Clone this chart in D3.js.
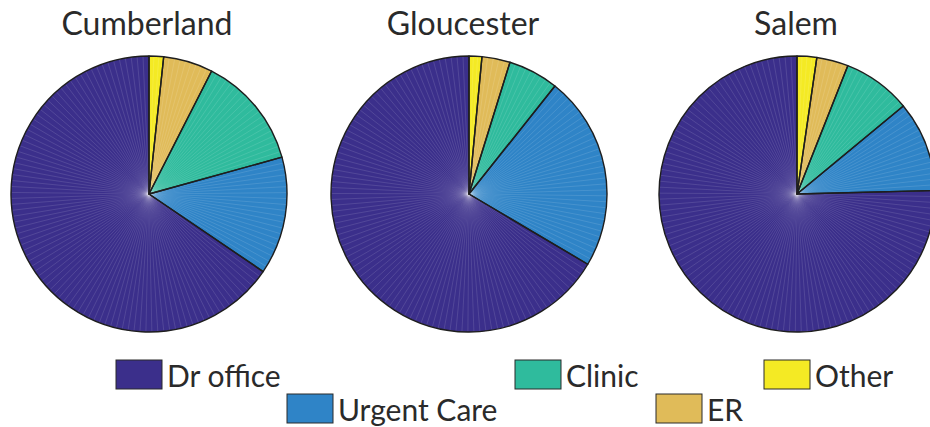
<!DOCTYPE html>
<html>
<head>
<meta charset="utf-8">
<script src="https://cdn.jsdelivr.net/npm/d3@7"></script>
<style>
  html, body { margin: 0; padding: 0; background: #fff; }
  svg { display: block; }
  text { font-family: Lato, "Open Sans", sans-serif; font-weight: 400; fill: #2a2a2a; }
</style>
</head>
<body>
<svg id="chart" width="930" height="427"></svg>
<script>
// ---- data (percent of visits) ----
const categories = ["Dr office", "Urgent Care", "Clinic", "ER", "Other"];
const regions = ["Cumberland", "Gloucester", "Salem"];
const cumberland = [65.5, 13.8, 13.2, 5.8, 1.7];
const gloucester = [66.5, 22.8, 5.9, 3.3, 1.5];
const salem = [75.4, 10.6, 8.0, 3.7, 2.3];
const seriesValues = [cumberland, gloucester, salem];
const colors = ["#3b2f8b", "#2f84c7", "#2fbb9d", "#e0bb59", "#f4ea24"];

// ---- layout ----
const W = 930, H = 427;
const radius = 138;
const centerY = 194;
const centersX = [149, 469, 797];

const svg = d3.select("#chart");
const color = d3.scaleOrdinal().domain(categories).range(colors);

const pie = d3.pie().sort(null).value(d => d.v)
  .startAngle(0).endAngle(-2 * Math.PI);
const arc = d3.arc().innerRadius(0).outerRadius(radius);

regions.forEach((name, i) => {
  const g = svg.append("g").attr("transform", `translate(${centersX[i]},${centerY})`);
  const data = categories.map((c, j) => ({ c, v: seriesValues[i][j] }));
  const arcs = pie(data);

  // slice fills
  g.selectAll("path.fill").data(arcs).join("path")
    .attr("class", "fill")
    .attr("d", arc)
    .attr("fill", d => color(d.data.c))
    .attr("stroke", "none");

  // faint radial seams (patch triangulation look)
  arcs.forEach(a => {
    const frac = Math.abs(a.endAngle - a.startAngle) / (2 * Math.PI);
    const n = Math.max(1, Math.ceil(144 * frac));
    const lines = d3.range(1, n).map(k => a.startAngle + (a.endAngle - a.startAngle) * k / n);
    g.append("g").selectAll("line").data(lines).join("line")
      .attr("x1", 0).attr("y1", 0)
      .attr("x2", t => (radius - 0.5) * Math.sin(t))
      .attr("y2", t => -(radius - 0.5) * Math.cos(t))
      .attr("stroke", "#ffffff")
      .attr("stroke-opacity", 0.2)
      .attr("stroke-width", 0.6);
  });

  // slice outlines
  g.selectAll("path.edge").data(arcs).join("path")
    .attr("class", "edge")
    .attr("d", arc)
    .attr("fill", "none")
    .attr("stroke", "#1e1e1e")
    .attr("stroke-width", 1.4)
    .attr("stroke-linejoin", "round");

  svg.append("text")
    .attr("x", [147, 463, 796][i])
    .attr("y", 35)
    .attr("text-anchor", "middle")
    .attr("font-size", 32)
    .text(name);
});

// ---- legend ----
const legendPos = [
  { x: 116, y: 360 }, // Dr office
  { x: 287, y: 394 }, // Urgent Care
  { x: 515, y: 360 }, // Clinic
  { x: 656, y: 394 }, // ER
  { x: 764, y: 360 }  // Other
];
const lg = svg.append("g");
categories.forEach((c, j) => {
  const p = legendPos[j];
  lg.append("rect")
    .attr("x", p.x).attr("y", p.y)
    .attr("width", 46).attr("height", 29)
    .attr("fill", color(c))
    .attr("stroke", "#2a2a2a").attr("stroke-width", 1);
  lg.append("text")
    .attr("x", p.x + 51).attr("y", p.y + 27)
    .attr("font-size", 30)
    .text(c);
});
</script>
</body>
</html>
